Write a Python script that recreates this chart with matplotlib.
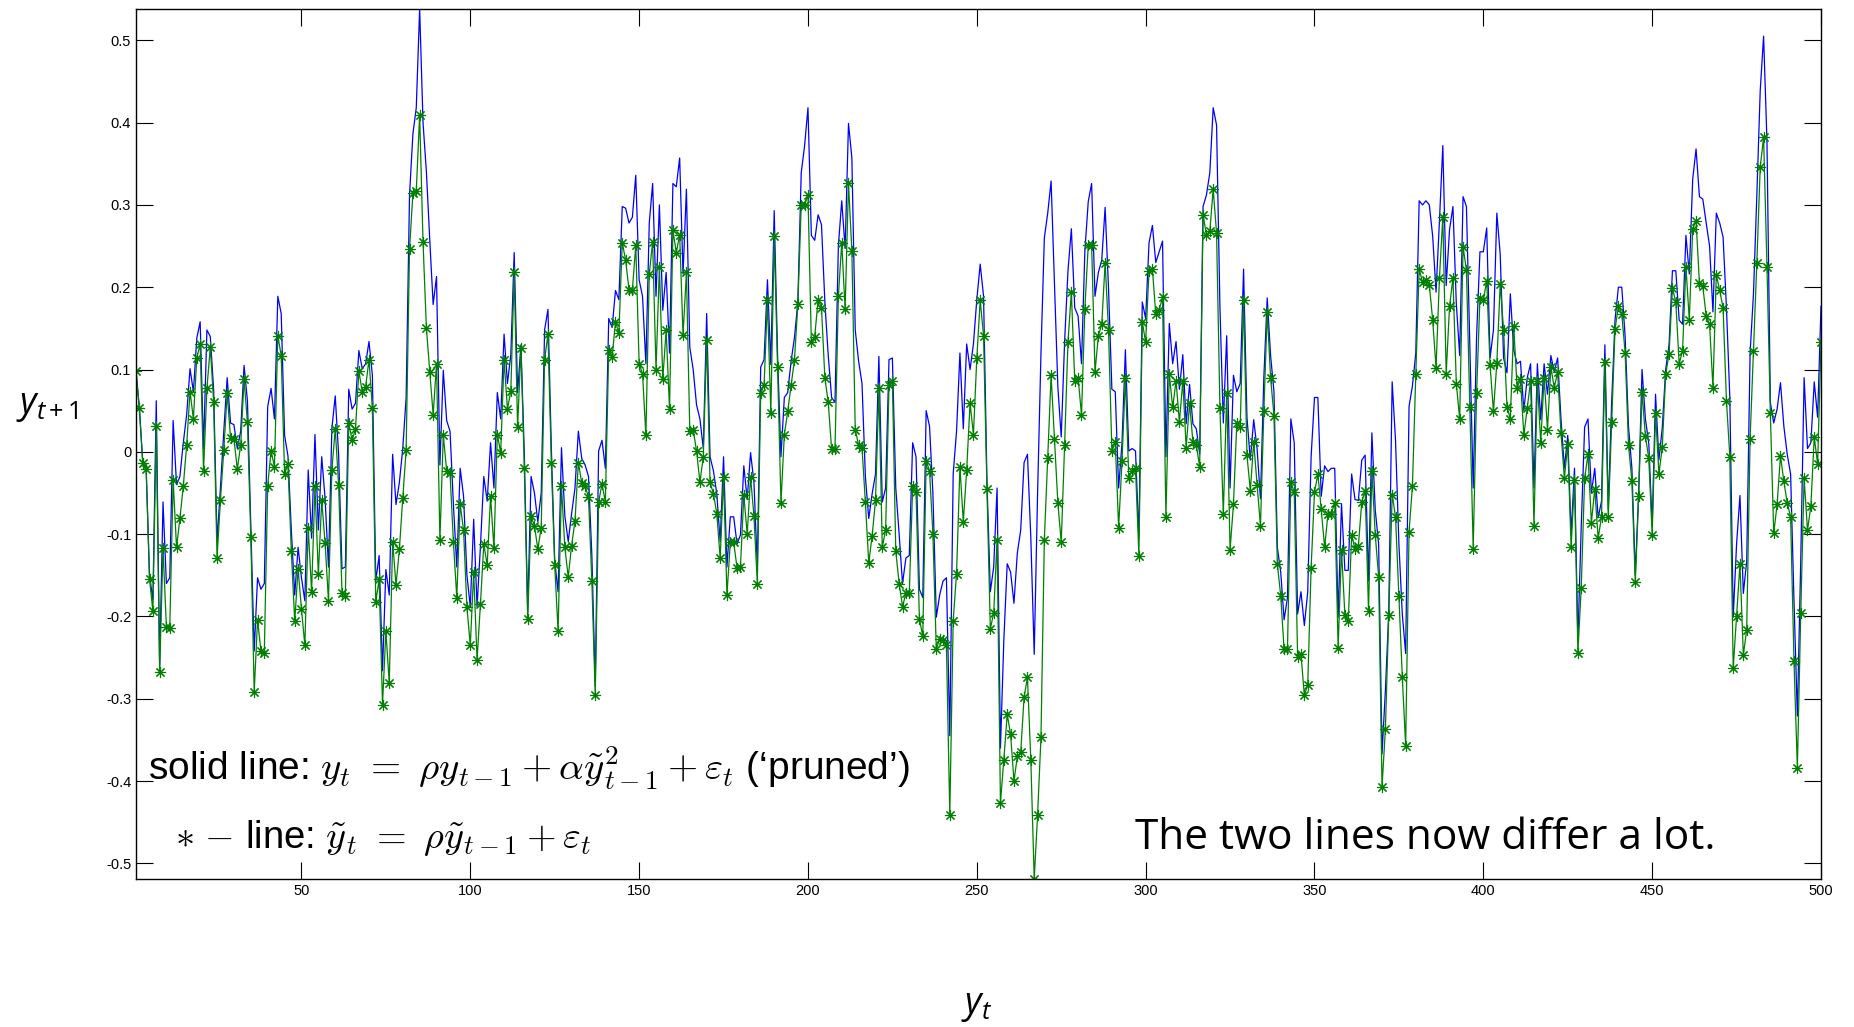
import numpy as np
import matplotlib
matplotlib.use('Agg')
import matplotlib.pyplot as plt

# values, t = 1..500
# green stars: linear AR(1)  y~_t = rho*y~_{t-1} + eps_t
y_linear = [
    0.098, 0.053, -0.014, -0.021, -0.154, -0.194, 0.031, -0.268, -0.117, -0.213,
    -0.214, -0.034, -0.116, -0.081, -0.042, 0.008, 0.073, 0.040, 0.114, 0.131,
    -0.023, 0.077, 0.127, 0.060, -0.129, -0.059, 0.002, 0.071, 0.017, 0.016,
    -0.021, 0.008, 0.088, 0.036, -0.103, -0.292, -0.204, -0.242, -0.244, -0.041,
    0.001, -0.018, 0.141, 0.117, -0.027, -0.015, -0.121, -0.206, -0.142, -0.191,
    -0.235, -0.092, -0.170, -0.042, -0.149, -0.059, -0.111, -0.181, -0.022, 0.028,
    -0.040, -0.171, -0.175, 0.035, 0.014, 0.028, 0.098, 0.073, 0.079, 0.112,
    0.053, -0.182, -0.155, -0.307, -0.218, -0.281, -0.109, -0.162, -0.118, -0.056,
    0.002, 0.246, 0.314, 0.317, 0.409, 0.255, 0.150, 0.097, 0.045, 0.107,
    -0.107, 0.020, -0.023, -0.026, -0.110, -0.177, -0.064, -0.095, -0.189, -0.235,
    -0.146, -0.253, -0.185, -0.112, -0.138, -0.054, -0.117, 0.021, -0.001, 0.112,
    0.052, 0.074, 0.218, 0.030, 0.126, -0.020, -0.203, -0.078, -0.090, -0.118,
    -0.092, 0.112, 0.143, -0.013, -0.138, -0.218, -0.042, -0.116, -0.152, -0.114,
    -0.084, -0.013, -0.038, -0.042, -0.055, -0.157, -0.296, -0.061, -0.039, -0.061,
    0.124, 0.115, 0.158, 0.144, 0.254, 0.233, 0.197, 0.197, 0.251, 0.107,
    0.095, 0.020, 0.216, 0.255, 0.100, 0.225, 0.088, 0.148, 0.052, 0.269,
    0.242, 0.264, 0.142, 0.218, 0.025, 0.027, 0.001, -0.037, -0.006, 0.136,
    -0.037, -0.051, -0.075, -0.129, -0.031, -0.174, -0.110, -0.110, -0.141, -0.140,
    -0.053, -0.100, -0.031, -0.078, -0.160, 0.071, 0.081, 0.184, 0.047, 0.262,
    0.103, -0.062, 0.021, 0.049, 0.081, 0.112, 0.179, 0.300, 0.300, 0.312,
    0.134, 0.140, 0.185, 0.175, 0.090, 0.060, 0.003, 0.003, 0.189, 0.254,
    0.173, 0.326, 0.244, 0.027, 0.008, 0.005, -0.061, -0.135, -0.102, -0.059,
    0.077, -0.116, -0.095, 0.081, 0.086, -0.121, -0.160, -0.188, -0.172, -0.172,
    -0.042, -0.049, -0.203, -0.224, -0.011, -0.023, -0.100, -0.240, -0.227, -0.229,
    -0.235, -0.441, -0.205, -0.148, -0.018, -0.085, -0.022, 0.059, 0.021, 0.114,
    0.184, 0.141, -0.045, -0.215, -0.196, -0.107, -0.427, -0.374, -0.319, -0.343,
    -0.400, -0.370, -0.365, -0.298, -0.274, -0.375, -0.519, -0.441, -0.347, -0.107,
    -0.008, 0.093, 0.016, -0.062, -0.110, 0.008, 0.134, 0.194, 0.086, 0.090,
    0.045, 0.174, 0.251, 0.251, 0.097, 0.141, 0.155, 0.230, 0.148, 0.001,
    0.012, -0.092, -0.011, 0.090, -0.032, -0.023, -0.020, -0.126, 0.158, 0.133,
    0.220, 0.222, 0.167, 0.172, 0.188, -0.079, 0.095, 0.054, 0.086, 0.036,
    0.086, 0.005, 0.059, 0.012, 0.008, -0.018, 0.288, 0.264, 0.268, 0.319,
    0.266, 0.053, -0.076, 0.071, -0.119, -0.064, 0.035, 0.030, 0.185, -0.004,
    -0.047, 0.012, -0.040, -0.090, 0.049, 0.170, 0.090, 0.044, -0.136, -0.175,
    -0.240, -0.240, -0.037, -0.049, -0.249, -0.246, -0.296, -0.283, -0.141, -0.049,
    -0.027, -0.070, -0.116, -0.075, -0.075, -0.062, -0.238, -0.119, -0.198, -0.206,
    -0.101, -0.118, -0.114, -0.061, -0.047, -0.193, -0.023, -0.101, -0.152, -0.407,
    -0.337, -0.198, -0.052, -0.079, -0.175, -0.273, -0.357, -0.097, -0.042, 0.094,
    0.222, 0.206, 0.209, 0.203, 0.160, 0.102, 0.211, 0.285, 0.095, 0.177,
    0.211, 0.083, 0.040, 0.249, 0.221, 0.055, -0.118, 0.071, 0.187, 0.184,
    0.208, 0.105, 0.049, 0.108, 0.204, 0.148, 0.055, 0.040, 0.153, 0.078,
    0.088, 0.020, 0.053, 0.086, -0.090, 0.086, 0.011, 0.090, 0.027, 0.103,
    0.078, 0.097, 0.023, -0.032, 0.009, -0.116, -0.034, -0.244, -0.165, -0.032,
    -0.003, -0.086, -0.045, -0.105, -0.079, 0.109, -0.079, 0.036, 0.149, 0.177,
    0.168, 0.120, 0.008, -0.036, -0.158, -0.054, 0.073, 0.019, -0.008, -0.101,
    0.047, -0.027, 0.006, 0.094, 0.119, 0.199, 0.182, 0.107, 0.123, 0.225,
    0.160, 0.271, 0.281, 0.205, 0.201, 0.165, 0.155, 0.078, 0.215, 0.196,
    0.175, 0.062, -0.006, -0.263, -0.200, -0.136, -0.247, -0.216, 0.016, 0.123,
    0.230, 0.346, 0.382, 0.225, 0.047, -0.099, -0.064, -0.005, -0.036, -0.062,
    -0.079, -0.254, -0.384, -0.196, -0.032, -0.095, -0.066, 0.018, -0.015, 0.134,
]

# blue solid line: 'pruned' nonlinear model
y_pruned = [
    0.098, 0.053, -0.012, -0.018, -0.150, -0.180, 0.062, -0.260, -0.061, -0.160,
    -0.153, 0.038, -0.040, -0.030, 0.011, 0.045, 0.101, 0.073, 0.138, 0.158,
    0.004, 0.148, 0.140, 0.075, -0.109, -0.044, 0.025, 0.090, 0.035, 0.033,
    0.004, 0.025, 0.105, 0.062, -0.090, -0.242, -0.153, -0.167, -0.160, 0.055,
    0.077, 0.040, 0.189, 0.168, 0.020, -0.005, -0.095, -0.174, -0.116, -0.153,
    -0.181, -0.022, -0.105, 0.021, -0.095, -0.006, -0.057, -0.140, 0.028, 0.068,
    -0.003, -0.142, -0.140, 0.076, 0.052, 0.059, 0.123, 0.101, 0.107, 0.134,
    0.093, -0.157, -0.126, -0.266, -0.143, -0.174, -0.003, -0.064, -0.037, 0.004,
    0.066, 0.312, 0.386, 0.418, 0.538, 0.400, 0.340, 0.257, 0.179, 0.213,
    -0.016, 0.099, 0.038, 0.025, -0.064, -0.140, -0.020, -0.054, -0.150, -0.188,
    -0.082, -0.188, -0.115, -0.030, -0.060, 0.011, -0.044, 0.072, 0.040, 0.143,
    0.083, 0.118, 0.242, 0.072, 0.130, -0.003, -0.195, -0.030, -0.050, -0.085,
    -0.050, 0.148, 0.173, 0.004, -0.133, -0.170, 0.005, -0.078, -0.109, -0.075,
    -0.044, 0.025, -0.008, -0.016, -0.030, -0.126, -0.285, 0.001, 0.014, -0.020,
    0.162, 0.151, 0.196, 0.185, 0.298, 0.296, 0.278, 0.285, 0.336, 0.209,
    0.189, 0.107, 0.278, 0.326, 0.189, 0.300, 0.172, 0.218, 0.120, 0.326,
    0.322, 0.357, 0.216, 0.319, 0.127, 0.100, 0.057, 0.040, 0.004, 0.168,
    -0.006, -0.023, -0.051, -0.109, -0.006, -0.140, -0.079, -0.079, -0.112, -0.101,
    -0.017, -0.058, -0.001, -0.037, -0.140, 0.103, 0.112, 0.209, 0.106, 0.293,
    0.116, -0.006, 0.066, 0.072, 0.110, 0.139, 0.182, 0.339, 0.372, 0.418,
    0.263, 0.257, 0.288, 0.276, 0.182, 0.117, 0.066, 0.060, 0.250, 0.305,
    0.247, 0.399, 0.357, 0.148, 0.110, 0.083, -0.030, -0.081, -0.051, -0.027,
    0.116, -0.061, -0.044, 0.112, 0.114, -0.044, -0.100, -0.160, -0.129, -0.126,
    0.011, -0.006, -0.167, -0.177, 0.050, 0.031, -0.051, -0.201, -0.174, -0.157,
    -0.153, -0.345, -0.027, 0.025, 0.120, 0.028, 0.131, 0.100, 0.131, 0.185,
    0.228, 0.189, -0.035, -0.170, -0.140, -0.044, -0.360, -0.229, -0.136, -0.146,
    -0.184, -0.123, -0.095, -0.013, -0.003, -0.105, -0.246, -0.050, 0.120, 0.260,
    0.290, 0.329, 0.203, 0.079, 0.018, 0.134, 0.220, 0.271, 0.175, 0.165,
    0.107, 0.244, 0.304, 0.326, 0.189, 0.218, 0.233, 0.297, 0.199, 0.076,
    0.073, -0.044, 0.011, 0.124, 0.001, 0.004, 0.001, -0.105, 0.182, 0.162,
    0.254, 0.275, 0.230, 0.243, 0.256, -0.006, 0.156, 0.107, 0.134, 0.076,
    0.118, 0.034, 0.082, 0.034, 0.028, -0.003, 0.298, 0.312, 0.339, 0.418,
    0.397, 0.175, 0.035, 0.141, -0.044, 0.093, 0.073, 0.083, 0.222, 0.042,
    -0.010, 0.039, 0.004, -0.057, 0.090, 0.187, 0.117, 0.073, -0.116, -0.146,
    -0.204, -0.177, 0.040, 0.011, -0.197, -0.170, -0.211, -0.170, -0.006, 0.066,
    0.066, -0.054, -0.017, -0.024, -0.020, -0.020, -0.201, -0.063, -0.144, -0.144,
    -0.027, -0.058, -0.059, -0.010, -0.004, -0.157, 0.023, -0.071, -0.112, -0.367,
    -0.290, -0.194, 0.085, 0.014, -0.112, -0.197, -0.245, 0.055, 0.080, 0.120,
    0.305, 0.300, 0.305, 0.300, 0.262, 0.194, 0.280, 0.372, 0.202, 0.270,
    0.298, 0.180, 0.117, 0.310, 0.298, 0.130, -0.044, 0.140, 0.243, 0.243,
    0.272, 0.114, 0.148, 0.290, 0.240, 0.114, 0.096, 0.192, 0.124, 0.107,
    0.110, 0.050, 0.090, 0.107, -0.044, 0.107, 0.039, 0.107, 0.070, 0.117,
    0.097, 0.114, 0.040, -0.020, 0.020, -0.100, -0.020, -0.229, -0.090, 0.030,
    0.040, -0.050, -0.020, -0.080, -0.060, 0.130, -0.070, 0.060, 0.160, 0.200,
    0.200, 0.140, 0.030, -0.020, -0.150, -0.050, 0.100, 0.040, 0.010, -0.090,
    0.070, -0.010, 0.030, 0.100, 0.130, 0.220, 0.220, 0.160, 0.155, 0.263,
    0.216, 0.331, 0.368, 0.310, 0.307, 0.278, 0.250, 0.170, 0.290, 0.278,
    0.261, 0.175, 0.066, -0.201, -0.112, -0.053, -0.172, -0.133, 0.120, 0.192,
    0.312, 0.439, 0.505, 0.377, 0.060, 0.035, 0.052, 0.084, 0.031, -0.003,
    -0.027, -0.181, -0.321, -0.133, 0.090, 0.004, 0.011, 0.085, 0.042, 0.177,
]

x_ticks = [50, 100, 150, 200, 250, 300, 350, 400, 450, 500]
y_ticks = [-0.5, -0.4, -0.3, -0.2, -0.1, 0, 0.1, 0.2, 0.3, 0.4, 0.5]
y_tick_labels = ['-0.5', '-0.4', '-0.3', '-0.2', '-0.1', '0',
                 '0.1', '0.2', '0.3', '0.4', '0.5']

plt.rcParams['axes.unicode_minus'] = False
plt.rcParams['font.family'] = ['Liberation Sans', 'DejaVu Sans']
plt.rcParams['mathtext.fontset'] = 'custom'
plt.rcParams['mathtext.it'] = 'Open Sans:italic'
plt.rcParams['mathtext.rm'] = 'Open Sans'

W, H = 1854, 1027
fig = plt.figure(figsize=(W / 100, H / 100), dpi=100)
# MATLAB-like box: left 136px, right 1821px, top 9px, bottom 879px
ax = fig.add_axes([136 / W, 1 - 879 / H, (1821 - 136) / W, (879 - 9) / H])

t = np.arange(1, len(y_pruned) + 1)
ax.plot(t, y_pruned, color='#0000ff', lw=0.9)
ax.plot(t, y_linear, color='#008000', lw=0.9, marker=(8, 2, 0),
        ms=8, mew=0.8, mec='#008000')

ax.set_xlim(1, len(t))
ax.set_ylim(min(min(y_pruned), min(y_linear)), max(max(y_pruned), max(y_linear)))
ax.set_xticks(x_ticks)
ax.set_yticks(y_ticks)
ax.set_yticklabels(y_tick_labels)
ax.tick_params(direction='in', length=12, width=0.8, top=True, right=True,
               labelsize=10.5, colors='black')
for s in ax.spines.values():
    s.set_linewidth(1.0)

# axis labels placed like the slide
fig.text(47 / W, 1 - 406 / H, r'$\mathit{y_{t+1}}$', fontsize=26,
         ha='center', va='center')
fig.text(977 / W, 1 - 1006 / H, r'$\mathit{y_t}$', fontsize=26,
         ha='center', va='center')

ax.text(148 / W, 1 - 768 / H,
        r"solid line: $y_t\ =\ \rho y_{t-1} + \alpha\tilde{y}^2_{t-1} + \varepsilon_t$ (‘pruned’)",
        transform=fig.transFigure, fontsize=28, va='center', ha='left',
        math_fontfamily='cm')
ax.text(175 / W, 1 - 838 / H,
        r"$\ast$ $-$ line: $\tilde{y}_t\ =\ \rho\tilde{y}_{t-1} + \varepsilon_t$",
        transform=fig.transFigure, fontsize=27.5, va='center', ha='left',
        math_fontfamily='cm')
ax.text(1135 / W, 1 - 838 / H, 'The two lines now differ a lot.',
        transform=fig.transFigure, fontsize=30.5, va='center', ha='left',
        family=['Open Sans', 'DejaVu Sans'])

fig.savefig('out.png', dpi=100)
